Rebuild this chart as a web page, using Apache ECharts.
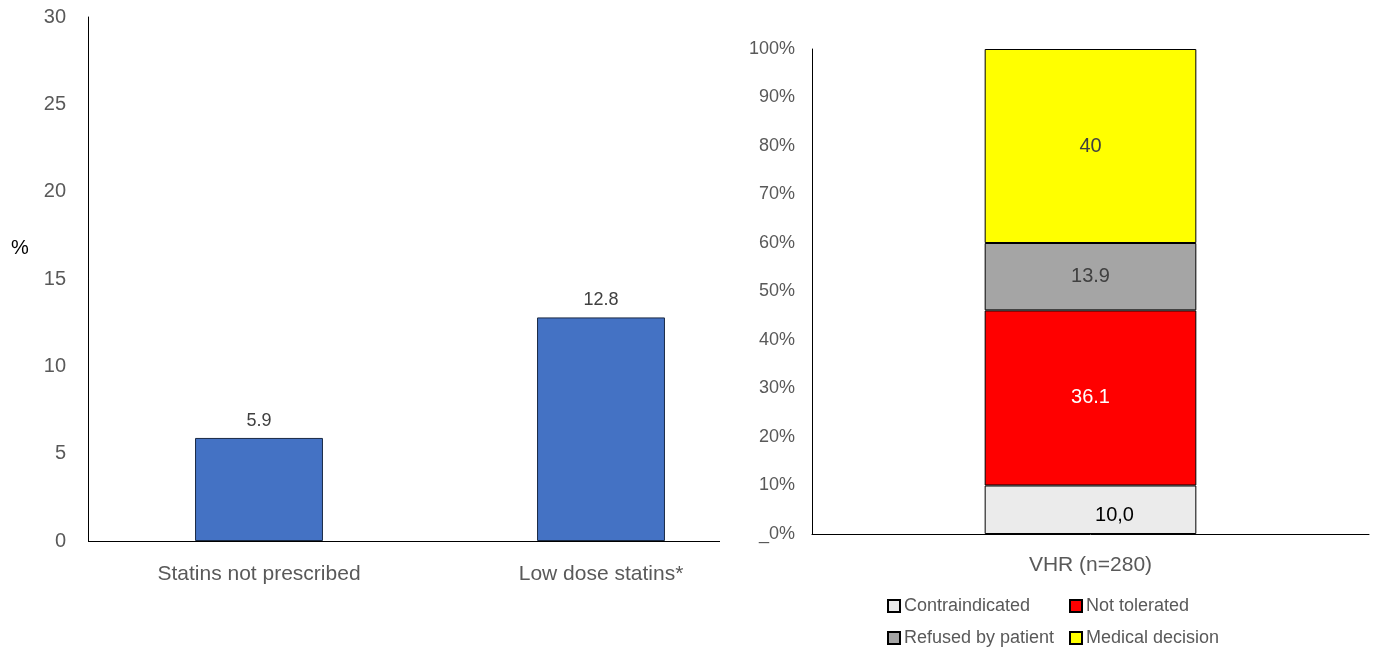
<!DOCTYPE html>
<html>
<head>
<meta charset="utf-8">
<script src="https://cdn.jsdelivr.net/npm/echarts@6/dist/echarts.min.js"></script>
<style>
  html, body { margin: 0; padding: 0; background: #fff; }
  #chart { width: 1373px; height: 650px; }
</style>
</head>
<body>
<div id="chart"></div>
<script>
// left panel
var leftCategories = ['Statins not prescribed', 'Low dose statins*'];
var leftValues = [5.9, 12.8];

// right panel (stacked 100%)
var rightCategories = ['VHR (n=280)'];
var stackNames = ['Contraindicated', 'Not tolerated', 'Refused by patient', 'Medical decision'];
var contraindicated = [10.0];
var notTolerated = [36.1];
var refused = [13.9];
var medicalDecision = [40];
var stackLabels = ['10,0', '36.1', '13.9', '40'];

var font = 'Liberation Sans, Arial, sans-serif';
var axisGray = '#595959';

var myChart = echarts.init(document.getElementById('chart'));

function stackSeries(name, data, color, label) {
    return {
        name: name,
        type: 'bar',
        stack: 'vhr',
        xAxisIndex: 1,
        yAxisIndex: 1,
        barWidth: '38%',
        data: data,
        itemStyle: { color: color, borderColor: '#000', borderWidth: 1 },
        label: label
    };
}

function legendCol(left, names) {
    return {
        orient: 'vertical', left: left, top: 592, height: 60,
        icon: 'rect', itemWidth: 12, itemHeight: 12, itemGap: 14,
        data: names,
        textStyle: { color: axisGray, fontSize: 18, fontFamily: font, padding: [0, 0, 0, -1] }
    };
}

var option = {
    animation: false,
    textStyle: { fontFamily: font },
    grid: [
        { left: 88, top: 17, width: 684, bottom: 109 },
        { left: 812, top: 49, right: 4, bottom: 116 }
    ],
    xAxis: [
        {
            type: 'category', gridIndex: 0, data: leftCategories,
            axisLine: { show: false }, axisTick: { show: false },
            axisLabel: { color: axisGray, fontSize: 21, margin: 23, fontFamily: font }
        },
        {
            type: 'category', gridIndex: 1, data: rightCategories,
            axisLine: { lineStyle: { color: '#000', width: 1 } }, axisTick: { show: false },
            axisLabel: { color: axisGray, fontSize: 21, margin: 21, fontFamily: font }
        }
    ],
    yAxis: [
        {
            type: 'value', gridIndex: 0, min: 0, max: 30, interval: 5,
            axisLine: { show: true, lineStyle: { color: '#000', width: 1 } },
            axisTick: { show: false }, splitLine: { show: false },
            axisLabel: { color: axisGray, fontSize: 20, margin: 22, fontFamily: font }
        },
        {
            type: 'value', gridIndex: 1, min: 0, max: 100, interval: 10,
            axisLine: { show: true, lineStyle: { color: '#000', width: 1 } },
            axisTick: { show: false }, splitLine: { show: false },
            axisLabel: {
                color: axisGray, fontSize: 18, margin: 17, fontFamily: font,
                formatter: function (v) { return v === 0 ? '_0%' : v + '%'; }
            }
        }
    ],
    legend: [
        legendCol(882, [stackNames[0], stackNames[2]]),
        legendCol(1064, [stackNames[1], stackNames[3]])
    ],
    graphic: [
        {
            type: 'line', silent: true,
            shape: { x1: 88, y1: 541.5, x2: 720, y2: 541.5 },
            style: { stroke: '#000', lineWidth: 1 }
        },
        {
            type: 'text', left: 11, top: 238,
            style: { text: '%', fill: '#000', font: '20px ' + font }
        }
    ],
    series: [
        {
            name: 'left',
            type: 'bar',
            xAxisIndex: 0,
            yAxisIndex: 0,
            barWidth: '37.4%',
            data: leftValues,
            itemStyle: { color: '#4472C4', borderColor: '#1a2a44', borderWidth: 1 },
            label: { show: true, position: 'top', distance: 8, color: '#404040', fontSize: 18, fontFamily: font }
        },
        stackSeries(stackNames[0], contraindicated, '#EBEBEB',
            { show: true, position: 'inside', offset: [24, 6], color: '#000', fontSize: 20, fontFamily: font,
              formatter: stackLabels[0] }),
        stackSeries(stackNames[1], notTolerated, '#FF0000',
            { show: true, position: 'inside', color: '#fff', fontSize: 20, fontFamily: font,
              formatter: stackLabels[1] }),
        stackSeries(stackNames[2], refused, '#A5A5A5',
            { show: true, position: 'inside', color: '#404040', fontSize: 20, fontFamily: font,
              formatter: stackLabels[2] }),
        stackSeries(stackNames[3], medicalDecision, '#FFFF00',
            { show: true, position: 'inside', color: '#404040', fontSize: 20, fontFamily: font,
              formatter: stackLabels[3] })
    ]
};

myChart.setOption(option);
window.onresize = myChart.resize;
</script>
</body>
</html>
